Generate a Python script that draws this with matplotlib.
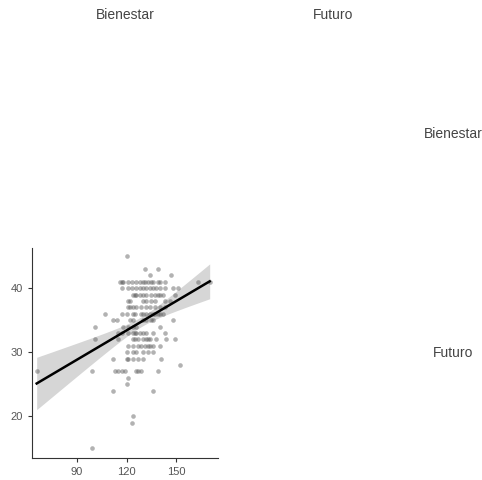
import matplotlib
matplotlib.use("Agg")
import matplotlib.pyplot as plt
import numpy as np

plt.rcParams['font.family'] = ['Liberation Sans', 'DejaVu Sans']

variables = ['Bienestar', 'Futuro']

# Bienestar (x) values grouped by Futuro (y) score
rows = {
    45: [120],
    43: [131, 139],
    42: [134, 147],
    41: [116, 117, 118, 121, 123, 126, 128, 130, 131, 133, 135, 136, 139, 140, 143, 163, 170],
    40: [117, 121, 123, 126, 128, 130, 132, 134, 136, 138, 140, 143, 148, 151],
    39: [124, 125, 126, 128, 130, 132, 135, 137, 139, 140, 142, 149],
    38: [121, 122, 130, 132, 135, 137, 143, 146],
    37: [121, 122, 124, 126, 129, 132, 134, 137, 140, 143],
    36: [107, 117, 120, 124, 125, 129, 130, 132, 134, 136, 137, 139, 140, 142],
    35: [112, 114, 122, 124, 130, 132, 135, 136, 148],
    34: [101, 118, 121, 124, 126, 140],
    33: [115, 117, 121, 124, 125, 126, 128, 130, 132, 136, 143],
    32: [101, 115, 124, 125, 127, 130, 132, 133, 134, 138, 144, 149],
    31: [121, 124, 127, 129, 131, 133, 134, 136, 140],
    30: [120, 124, 126, 130, 133, 136],
    29: [112, 120, 121, 124, 127, 130, 141],
    28: [152],
    27: [66, 99, 113, 115, 117, 119, 126, 127, 129, 139],
    26: [121],
    25: [120],
    24: [112, 136],
    20: [124],
    19: [123],
    15: [99],
}

bienestar = np.array([x for y in rows for x in rows[y]], dtype=float)
futuro = np.array([y for y in rows for x in rows[y]], dtype=float)

fig = plt.figure(figsize=(4.82, 4.80), dpi=100)
W, H = 482.0, 480.0

ax = fig.add_axes([31.7 / W, 1 - 458.3 / H, (218 - 31.7) / W, (458.3 - 248) / H])

# linear fit with 95% confidence band
n = len(bienestar)
b, a = np.polyfit(bienestar, futuro, 1)
xs = np.linspace(bienestar.min(), bienestar.max(), 100)
yhat = a + b * xs
resid = futuro - (a + b * bienestar)
s = np.sqrt(np.sum(resid ** 2) / (n - 2))
sxx = np.sum((bienestar - bienestar.mean()) ** 2)
se = s * np.sqrt(1.0 / n + (xs - bienestar.mean()) ** 2 / sxx)
band = 1.97 * se

ax.fill_between(xs, yhat - band, yhat + band, color='#d6d6d6', lw=0, zorder=1)
ax.scatter(bienestar, futuro, s=11, color='#555555', alpha=0.45, lw=0, zorder=2)
ax.plot(xs, yhat, color='black', lw=1.8, zorder=3)

ax.set_xlim(63, 175)
ax.set_ylim(13.4, 46.3)
ax.set_xticks([90, 120, 150])
ax.set_yticks([20, 30, 40])
for sp in ['top', 'right']:
    ax.spines[sp].set_visible(False)
for sp in ['left', 'bottom']:
    ax.spines[sp].set_color('#333333')
    ax.spines[sp].set_linewidth(0.8)
ax.tick_params(colors='#333333', labelcolor='#555555', labelsize=8, length=3, width=0.8)

# column and row labels of the pair matrix
col_x = [125, 333]
row_y = [134, 353]
for v, cx in zip(variables, col_x):
    fig.text(cx / W, 1 - 15 / H, v, ha='center', va='center', fontsize=10, color='#444444')
for v, ry in zip(variables, row_y):
    fig.text(453 / W, 1 - ry / H, v, ha='center', va='center', fontsize=10, color='#444444')

fig.savefig('out.png', dpi=100)
